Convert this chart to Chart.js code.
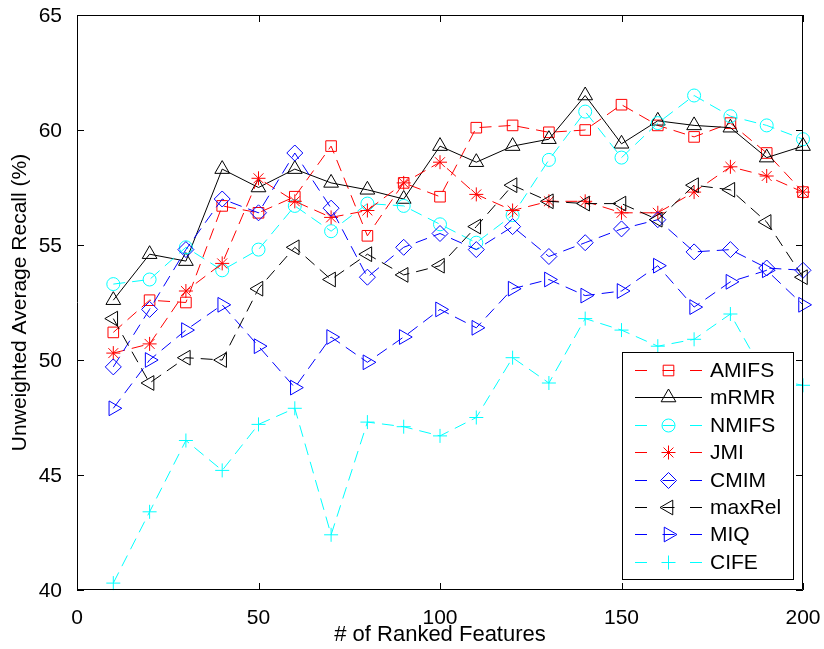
<!DOCTYPE html>
<html>
<head>
<meta charset="utf-8">
<script src="https://cdn.jsdelivr.net/npm/chart.js@4.4.0/dist/chart.umd.min.js"></script>
<style>
  body { margin: 0; background: #fff; }
</style>
</head>
<body>
<canvas id="recallChart" width="824" height="649"></canvas>
<script>
const features = [10, 20, 30, 40, 50, 60, 70, 80, 90, 100, 110, 120, 130, 140, 150, 160, 170, 180, 190, 200];

const amifs  = [51.2, 52.6, 52.5, 56.7, 56.4, 57.1, 59.3, 55.4, 57.7, 57.1, 60.1, 60.2, 59.9, 60.0, 61.1, 60.2, 59.7, 60.3, 59.0, 57.3];
const mrmr   = [52.6, 54.6, 54.3, 58.3, 57.5, 58.3, 57.7, 57.4, 57.0, 59.3, 58.6, 59.3, 59.6, 61.5, 59.4, 60.4, 60.2, 60.1, 58.8, 59.3];
const nmifs  = [53.3, 53.5, 54.9, 53.9, 54.8, 56.7, 55.6, 56.8, 56.7, 55.9, 55.1, 56.3, 58.7, 60.8, 58.8, 60.3, 61.5, 60.6, 60.2, 59.6];
const jmi    = [50.3, 50.7, 53.0, 54.2, 57.9, 56.9, 56.2, 56.5, 57.7, 58.6, 57.2, 56.5, 56.9, 56.9, 56.4, 56.4, 57.3, 58.4, 58.0, 57.3];
const cmim   = [49.7, 52.2, 54.8, 57.0, 56.4, 59.0, 56.6, 53.6, 54.9, 55.5, 54.8, 55.8, 54.5, 55.1, 55.7, 56.1, 54.7, 54.8, 54.0, 53.9];
const maxrel = [51.8, 49.0, 50.1, 50.0, 53.1, 54.9, 53.5, 54.6, 53.7, 54.1, 55.8, 57.6, 56.9, 56.8, 56.8, 56.1, 57.6, 57.4, 56.0, 53.6];
const miq    = [47.9, 50.0, 51.3, 52.4, 50.6, 48.8, 51.0, 49.9, 51.0, 52.2, 51.4, 53.1, 53.5, 52.8, 53.0, 54.1, 52.3, 53.4, 53.9, 52.4];
const cife   = [40.3, 43.4, 46.5, 45.2, 47.2, 47.9, 42.4, 47.3, 47.1, 46.7, 47.5, 50.1, 49.0, 51.8, 51.3, 50.6, 50.9, 52.0, 49.2, 48.9];

const xTicks = [0, 50, 100, 150, 200];
const yTicks = [40, 45, 50, 55, 60, 65];

const FONT = 'Liberation Sans, Arial, Helvetica, sans-serif';
const FSIZE = 21;
const dash = [12, 7];

const series = [
    { label: 'AMIFS',  data: amifs,  color: '#ff0000', style: 'rect',     rot: 0,   r: 7.5, dashed: true },
    { label: 'mRMR',   data: mrmr,   color: '#000000', style: 'triangle', rot: 0,   r: 8.5, dashed: false },
    { label: 'NMIFS',  data: nmifs,  color: '#00ffff', style: 'circle',   rot: 0,   r: 6.5, dashed: true },
    { label: 'JMI',    data: jmi,    color: '#ff0000', style: 'star',     rot: 0,   r: 7,   dashed: true },
    { label: 'CMIM',   data: cmim,   color: '#0000ff', style: 'rectRot',  rot: 0,   r: 8,   dashed: true },
    { label: 'maxRel', data: maxrel, color: '#000000', style: 'triangle', rot: -90, r: 8.5, dashed: true },
    { label: 'MIQ',    data: miq,    color: '#0000ff', style: 'triangle', rot: 90,  r: 8.5, dashed: true },
    { label: 'CIFE',   data: cife,   color: '#00ffff', style: 'cross',    rot: 0,   r: 7,   dashed: true },
];

// box with inward ticks on all four sides, matlab style
const boxPlugin = {
    id: 'matlabBox',
    afterDatasetsDraw(chart) {
        const ctx = chart.ctx;
        const a = chart.chartArea;
        const xs = chart.scales.x, ys = chart.scales.y;
        const tl = 7;
        ctx.save();
        ctx.strokeStyle = '#000';
        ctx.lineWidth = 1;
        ctx.beginPath();
        ctx.rect(a.left + 0.5, a.top + 0.5, a.right - a.left - 1, a.bottom - a.top - 1);
        xTicks.forEach(v => {
            const px = Math.round(xs.getPixelForValue(v)) + 0.5;
            ctx.moveTo(px, a.bottom); ctx.lineTo(px, a.bottom - tl);
            ctx.moveTo(px, a.top); ctx.lineTo(px, a.top + tl);
        });
        yTicks.forEach(v => {
            const py = Math.round(ys.getPixelForValue(v)) + 0.5;
            ctx.moveTo(a.left, py); ctx.lineTo(a.left + tl, py);
            ctx.moveTo(a.right, py); ctx.lineTo(a.right - tl, py);
        });
        ctx.stroke();
        ctx.restore();
    }
};

// legend with line + marker samples
const legendPlugin = {
    id: 'matlabLegend',
    afterDraw(chart) {
        const ctx = chart.ctx;
        const bx = 622, by = 352, bw = 171, bh = 227;
        ctx.save();
        ctx.fillStyle = '#fff';
        ctx.fillRect(bx, by, bw, bh);
        ctx.strokeStyle = '#000';
        ctx.lineWidth = 1;
        ctx.strokeRect(bx + 0.5, by + 0.5, bw, bh);
        ctx.font = FSIZE + 'px ' + FONT;
        ctx.textBaseline = 'middle';
        series.forEach((s, i) => {
            const y = Math.round(370 + i * 27.4) + 0.5;
            ctx.strokeStyle = s.color;
            ctx.lineWidth = 1;
            ctx.setLineDash(s.dashed ? [12, 15.5] : []);
            ctx.beginPath();
            ctx.moveTo(635, y);
            ctx.lineTo(702, y);
            ctx.stroke();
            ctx.setLineDash([]);
            ctx.fillStyle = 'rgba(0,0,0,0)';
            Chart.helpers.drawPoint(ctx, { pointStyle: s.style, rotation: s.rot, radius: s.r, borderWidth: 1 }, 668.5, y);
            ctx.fillStyle = '#000';
            ctx.fillText(s.label, 710, y + 1);
        });
        ctx.restore();
    }
};

const ctx = document.getElementById('recallChart').getContext('2d');
const recallChart = new Chart(ctx, {
    type: 'line',
    data: {
        datasets: series.map((s, i) => ({
            label: s.label,
            data: features.map((f, j) => ({ x: f, y: s.data[j] })),
            borderColor: s.color,
            borderWidth: 1,
            borderDash: s.dashed ? dash : [],
            pointStyle: s.style,
            pointRotation: s.rot,
            pointRadius: s.r,
            pointBorderColor: s.color,
            pointBackgroundColor: 'rgba(0,0,0,0)',
            pointBorderWidth: 1,
            tension: 0,
            fill: false,
            clip: false,
            order: series.length - i,
        })),
    },
    options: {
        responsive: false,
        animation: false,
        layout: { padding: { top: 15, right: 21, left: 0, bottom: 0 } },
        plugins: {
            legend: { display: false },
            tooltip: { enabled: false },
        },
        scales: {
            x: {
                type: 'linear',
                min: 0,
                max: 200,
                afterBuildTicks: s => { s.ticks = xTicks.map(v => ({ value: v })); },
                afterFit: s => { s.height = 59; s.paddingLeft = 0; s.paddingRight = 0; },
                grid: { display: false },
                border: { display: false },
                ticks: { color: '#000', padding: 8, maxRotation: 0, font: { family: FONT, size: FSIZE } },
                title: {
                    display: true,
                    text: '# of Ranked Features',
                    color: '#000',
                    font: { family: FONT, size: 22 },
                    padding: { top: 0, bottom: 1 },
                },
            },
            y: {
                min: 40,
                max: 65,
                afterBuildTicks: s => { s.ticks = yTicks.map(v => ({ value: v })); },
                afterFit: s => { s.width = 77; s.paddingTop = 0; s.paddingBottom = 0; },
                grid: { display: false },
                border: { display: false },
                ticks: { color: '#000', padding: 7, labelOffset: 1, font: { family: FONT, size: FSIZE } },
                title: {
                    display: true,
                    text: 'Unweighted Average Recall (%)',
                    color: '#000',
                    font: { family: FONT, size: FSIZE },
                    padding: { top: 8, bottom: 0 },
                },
            },
        },
    },
    plugins: [boxPlugin, legendPlugin],
});
</script>
</body>
</html>
